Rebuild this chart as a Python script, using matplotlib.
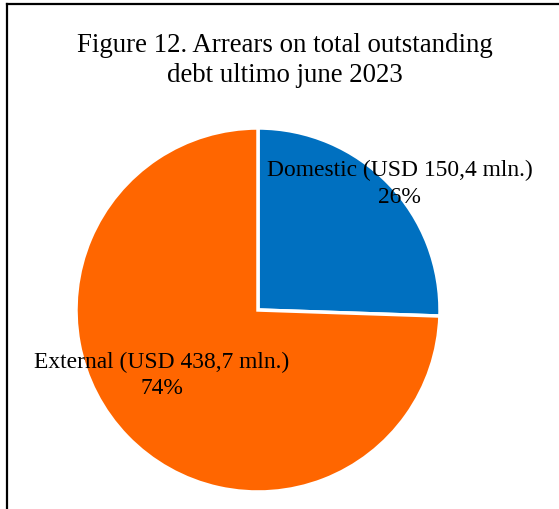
import matplotlib
matplotlib.use("Agg")
import matplotlib.pyplot as plt
from matplotlib.lines import Line2D

categories = ["Domestic", "External"]
values = [150.4, 438.7]
labels = ["Domestic (USD 150,4 mln.)", "External (USD 438,7 mln.)"]
colors = ["#0070C0", "#FF6600"]
title = "Figure 12. Arrears on total outstanding\ndebt ultimo june 2023"

plt.rcParams['font.family'] = ['Liberation Serif', 'DejaVu Serif']

W, H = 559, 509
fig = plt.figure(figsize=(W / 100, H / 100), dpi=100)
fig.patch.set_facecolor("white")

cx, cy, r = 258, 310, 182
ax = fig.add_axes([(cx - r) / W, (H - cy - r) / H, 2 * r / W, 2 * r / H])
wedges, _ = ax.pie(values, colors=colors, startangle=90, counterclock=False,
                   wedgeprops=dict(edgecolor="white", linewidth=2.5))
ax.set_xlim(-1, 1)
ax.set_ylim(-1, 1)
ax.set_aspect("auto")
ax.axis("off")

total = sum(values)
label_pos = [(0.777, 0.692), (-0.53, -0.36)]
for lab, v, (x, y) in zip(labels, values, label_pos):
    ax.text(x, y, f"{lab}\n{round(100 * v / total)}%", ha="center", va="center",
            fontsize=16.9, linespacing=1.36, color="black")

fig.text(285 / W, 1 - 60.5 / H, title, ha="center", va="center", fontsize=19.4,
         linespacing=1.27)

fig.add_artist(Line2D([7 / W, 7 / W], [0, 1 - 4 / H], color="black", linewidth=1.6,
                      transform=fig.transFigure))
fig.add_artist(Line2D([7 / W, 1], [1 - 4 / H, 1 - 4 / H], color="black", linewidth=1.6,
                      transform=fig.transFigure))

fig.savefig("out.png", dpi=100)
